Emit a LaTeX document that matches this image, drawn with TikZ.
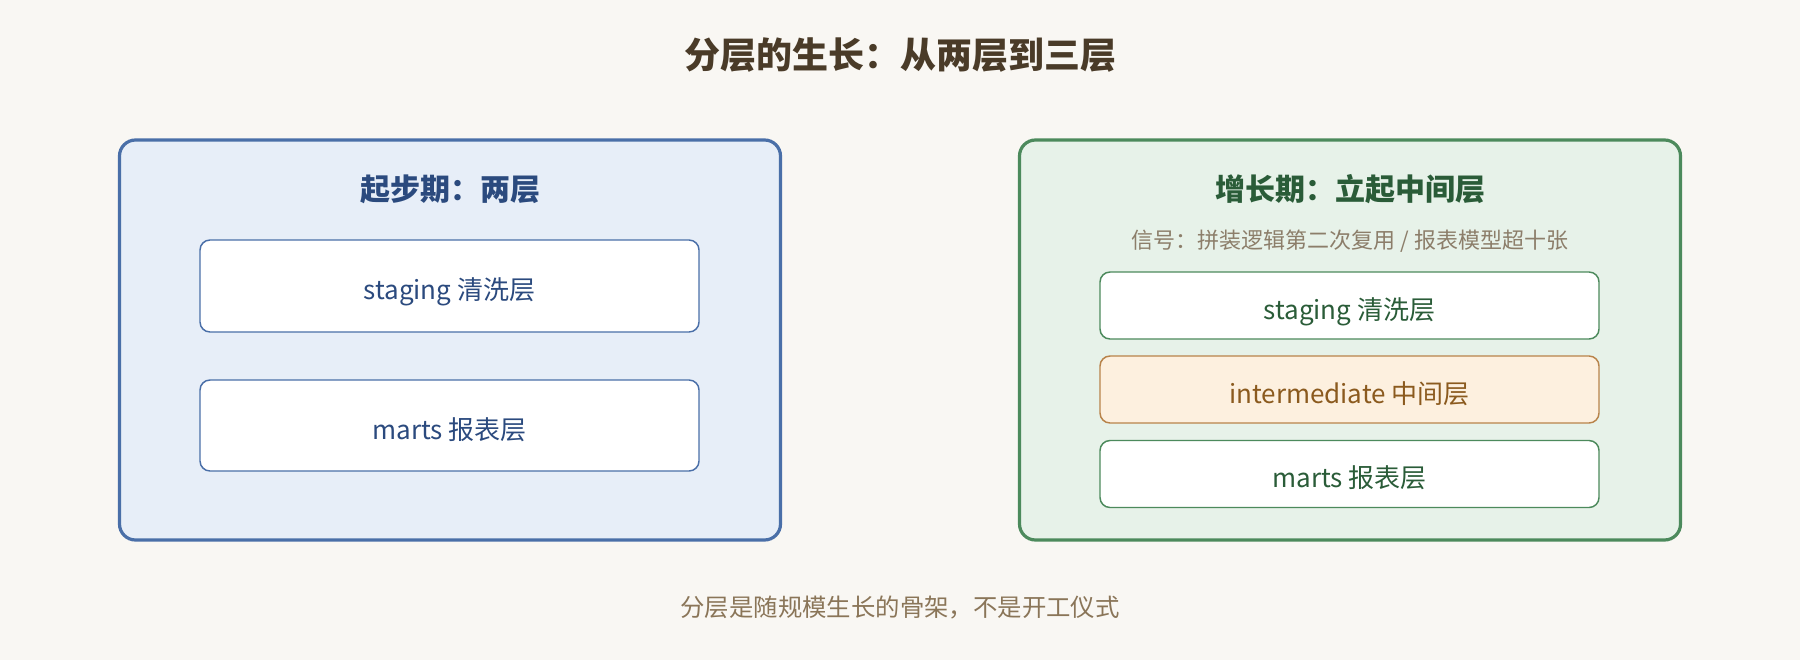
\documentclass[tikz,border=0pt]{standalone}
\usepackage{fontspec}
\setmainfont{Noto Sans CJK SC}
\definecolor{bg}{HTML}{F9F7F3}
\definecolor{maintitle}{HTML}{4A3B28}
\definecolor{bluebd}{HTML}{4A6FA8}
\definecolor{bluefill}{HTML}{E7EEF8}
\definecolor{bluetext}{HTML}{2B4A7E}
\definecolor{greenbd}{HTML}{4C8A5C}
\definecolor{greenfill}{HTML}{E7F2E9}
\definecolor{greentext}{HTML}{2A5C38}
\definecolor{orangebd}{HTML}{B8834A}
\definecolor{orangefill}{HTML}{FDF0DF}
\definecolor{orangetext}{HTML}{8B5A1E}
\definecolor{subtext}{HTML}{8C7E6A}
\definecolor{foottext}{HTML}{8A7558}
\tikzset{
  outerbox/.style={draw, line width=2.4pt, rounded corners=12pt, minimum width=495.75pt, minimum height=300pt, inner sep=0pt},
  layerbox/.style={draw, line width=1.1pt, rounded corners=7.5pt, fill=white, minimum width=374.25pt, inner sep=0pt, font=\fontsize{19.5pt}{23pt}\selectfont, text height=20.5pt, text depth=0pt},
  boxtitle/.style={font=\fontsize{22.5pt}{27pt}\selectfont\bfseries, inner sep=0pt},
}
\begin{document}
\begin{tikzpicture}[x=0.75pt, y=-0.75pt]
\fill[bg] (0,0) rectangle (1800,660);
\useasboundingbox (0,0) rectangle (1800,660);
\node[font=\fontsize{27pt}{32pt}\selectfont\bfseries, text=maintitle] (title) at (900,55) {分层的生长：从两层到三层};

% left panel
\node[outerbox, draw=bluebd, fill=bluefill] (left) at (450,340) {};
\node[boxtitle, text=bluetext] (ltitle) at (450,189) {起步期：两层};
\node[layerbox, draw=bluebd, text=bluetext, minimum height=69pt] (lstg) at (449.5,286) {staging 清洗层};
\node[layerbox, draw=bluebd, text=bluetext, minimum height=68.25pt] (lmart) at (449.5,425.5) {marts 报表层};

% right panel
\node[outerbox, draw=greenbd, fill=greenfill] (right) at (1350,340) {};
\node[boxtitle, text=greentext] (rtitle) at (1350,189) {增长期：立起中间层};
\node[font=\fontsize{16.5pt}{20pt}\selectfont, text=subtext, inner sep=0pt] (rsub) at (1350,241) {信号：拼装逻辑第二次复用 / 报表模型超十张};
\node[layerbox, draw=greenbd, text=greentext, minimum height=50.25pt] (rstg) at (1349.5,305.5) {staging 清洗层};
\node[layerbox, draw=orangebd, fill=orangefill, text=orangetext, minimum height=50.25pt] (rint) at (1349.5,389.5) {intermediate 中间层};
\node[layerbox, draw=greenbd, text=greentext, minimum height=50.25pt] (rmart) at (1349.5,474) {marts 报表层};

\node[font=\fontsize{18.3pt}{22pt}\selectfont, text=foottext] (foot) at (900,608) {分层是随规模生长的骨架，不是开工仪式};
\end{tikzpicture}
\end{document}
